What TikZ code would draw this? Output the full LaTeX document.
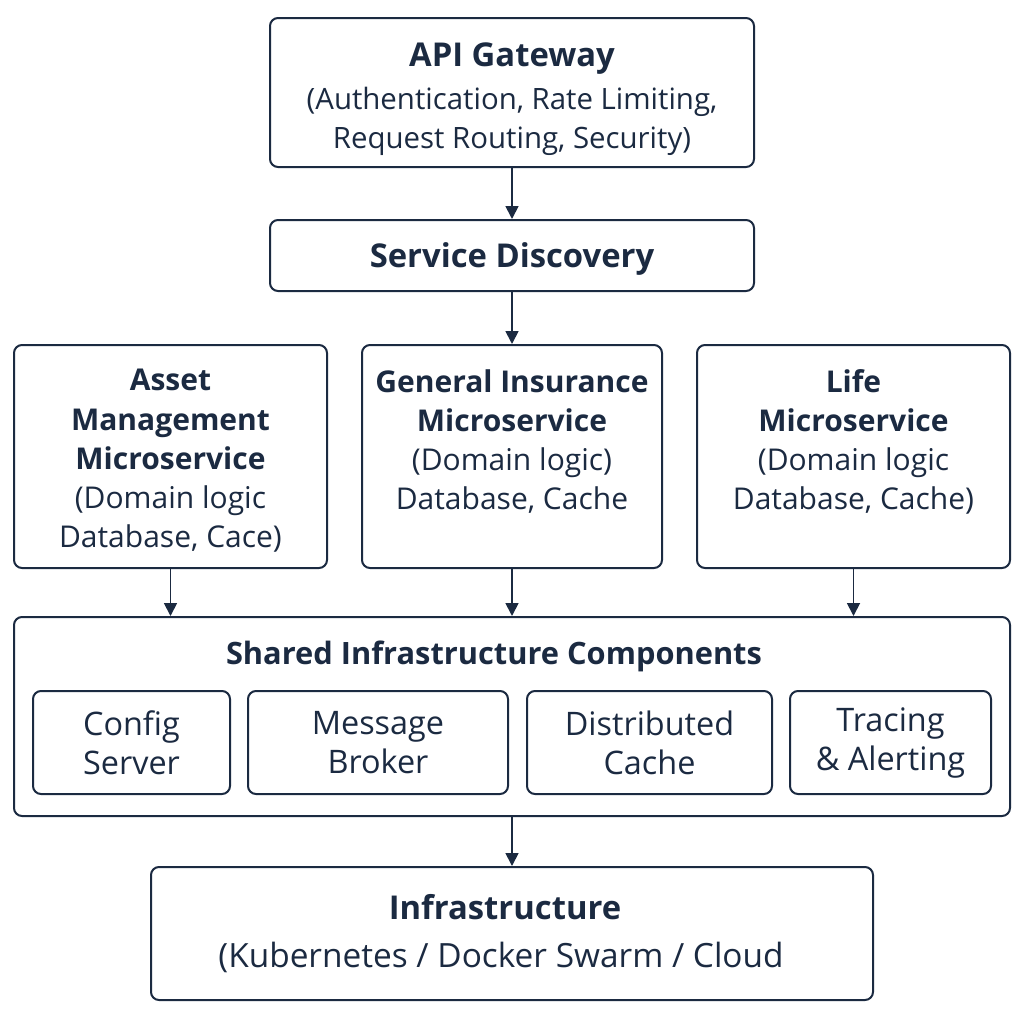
\documentclass[tikz,border=0pt]{standalone}
\usepackage{fontspec}
\setmainfont{Open Sans}
\usetikzlibrary{arrows.meta}
\usetikzlibrary{positioning}
\definecolor{navy}{HTML}{1B2A41}
\tikzstyle{box} = [draw=navy, line width=1pt, rounded corners=4pt, inner sep=0pt, text=navy, align=center]
\tikzstyle{txt} = [text=navy, align=center, inner sep=0pt]
\tikzstyle{line} = [draw=navy, line width=0.9pt, -{Triangle[width=6.5pt,length=6.5pt]}]

\begin{document}
\begin{tikzpicture}[x=0.5pt, y=-0.5pt,
	bigtitle/.style={font=\fontsize{16.4}{22}\selectfont\bfseries, text depth=0pt},
	title/.style={font=\fontsize{15.4}{19.6}\selectfont\bfseries, text depth=0pt},
	apibody/.style={font=\fontsize{14.7}{19.5}\selectfont},
	svcbody/.style={font=\fontsize{15}{19.6}\selectfont},
	compbody/.style={font=\fontsize{16.2}{19.5}\selectfont}]
	\useasboundingbox (0,0) rectangle (1024,1024);
	%% Top
	\node [box, minimum width=242pt, minimum height=74.5pt] (api) at (512,92.5) {};
	\node [txt, bigtitle] (apititle) at (512,55) {API Gateway};
	\node [txt, apibody] (apitext) at (512,121) {(Authentication, Rate Limiting,\\Request Routing, Security)};
	\node [box, bigtitle, minimum width=242pt, minimum height=35.5pt] (sd) at (512,255.5) {Service Discovery};
	%% Microservices
	\node [box, minimum width=156.5pt, minimum height=111.5pt] (asset) at (170.5,456.5) {};
	\node [txt, svcbody, anchor=north, below=12.5pt of asset.north] (assettext)
		{\textbf{Asset}\\\textbf{Management}\\\textbf{Microservice}\\(Domain logic\\Database, Cace)};
	\node [box, minimum width=150pt, minimum height=111.5pt] (gen) at (512,456.5) {};
	\node [txt, svcbody, anchor=north, below=12.5pt of gen.north] (gentext)
		{\textbf{General Insurance}\\\textbf{Microservice}\\(Domain logic)\\Database, Cache};
	\node [box, minimum width=156.5pt, minimum height=111.5pt] (life) at (853.5,456.5) {};
	\node [txt, svcbody, anchor=north, below=12.5pt of life.north] (lifetext)
		{\textbf{Life}\\\textbf{Microservice}\\(Domain logic\\Database, Cache)};
	%% Shared components
	\node [box, minimum width=498pt, minimum height=99.5pt] (shared) at (512,716.5) {};
	\node [txt, title] (sharedtitle) at (494,653) {Shared Infrastructure Components};
	\node [box, compbody, minimum width=98.5pt, minimum height=51.5pt] (config) at (131.5,742.5) {Config\\Server};
	\node [box, compbody, minimum width=130pt, minimum height=51.5pt] (broker) at (378,742.5) {Message\\Broker};
	\node [box, compbody, minimum width=122.5pt, minimum height=51.5pt] (cache) at (649.5,742.5) {Distributed\\Cache};
	\node [box, compbody, minimum width=100.5pt, minimum height=51.5pt] (tracing) at (890.5,742.5) {Tracing\\\& Alerting};
	%% Bottom
	\node [box, minimum width=361pt, minimum height=66.5pt] (infra) at (512,933.5) {};
	\node [txt, bigtitle] (infratitle) at (505,907) {Infrastructure};
	\node [txt, font=\fontsize{16.7}{20}\selectfont] (infratext) at (501,957) {(Kubernetes / Docker Swarm / Cloud};
	%% Arrows
	\path [line] (api) -- (sd);
	\path [line] (sd) -- (gen);
	\path [line] (asset) -- (asset |- shared.north);
	\path [line] (gen) -- (shared);
	\path [line] (life) -- (life |- shared.north);
	\path [line] (shared) -- (infra);
\end{tikzpicture}
\end{document}
